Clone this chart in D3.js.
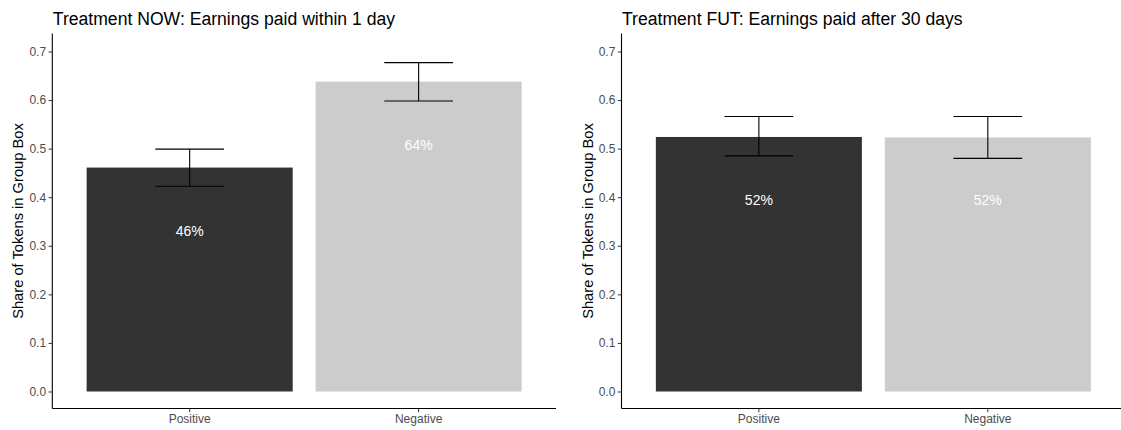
<!DOCTYPE html>
<html>
<head>
<meta charset="utf-8">
<script src="https://cdn.jsdelivr.net/npm/d3@7"></script>
<style>
  html, body { margin: 0; padding: 0; background: #ffffff; }
  svg { display: block; font-family: "Liberation Sans", Arial, sans-serif; }
</style>
</head>
<body>
<svg id="chart" width="1121" height="430"></svg>
<script>
// Group box shares by valence, for each payment-timing treatment
const categories = ["Positive", "Negative"];
const panelTitles = [
  "Treatment NOW: Earnings paid within 1 day",
  "Treatment FUT: Earnings paid after 30 days"
];
const nowMean  = [0.461, 0.638];
const nowLower = [0.4225, 0.598];
const nowUpper = [0.499, 0.677];
const futMean  = [0.524, 0.523];
const futLower = [0.485, 0.480];
const futUpper = [0.566, 0.566];
const yTicks = [0, 0.1, 0.2, 0.3, 0.4, 0.5, 0.6, 0.7];
const yTitle = "Share of Tokens in Group Box";
const fillColors = ["#333333", "#cccccc"];

const panels = [
  { title: panelTitles[0], mean: nowMean, lower: nowLower, upper: nowUpper, left: 52.3 },
  { title: panelTitles[1], mean: futMean, lower: futLower, upper: futUpper, left: 621.5 }
];

const svg = d3.select("#chart");
const panelWidth = 503.7;
const yTop = 33.5, yBottom = 408.5;
const y = d3.scaleLinear().domain([-0.035, 0.737]).range([yBottom, yTop]);
const fmt = d3.format(".0%");
const tickFmt = d3.format(".1f");

panels.forEach(p => {
  const x = d3.scaleBand()
    .domain(categories)
    .range([p.left, p.left + panelWidth])
    .paddingInner(0.1)
    .paddingOuter(0.15);

  const rows = categories.map((c, i) => ({
    cat: c, mean: p.mean[i], lo: p.lower[i], hi: p.upper[i], fill: fillColors[i]
  }));

  const g = svg.append("g");

  // bars
  g.selectAll("rect.bar").data(rows).join("rect")
    .attr("class", "bar")
    .attr("x", d => x(d.cat))
    .attr("width", x.bandwidth())
    .attr("y", d => y(d.mean))
    .attr("height", d => y(0) - y(d.mean))
    .attr("fill", d => d.fill);

  // error bars (whisker width = 0.3 of the category step)
  const ew = x.step() * 0.3;
  const eb = g.selectAll("g.err").data(rows).join("g").attr("class", "err")
    .attr("stroke", "#000").attr("stroke-width", 1.1).attr("fill", "none");
  eb.append("line")
    .attr("x1", d => x(d.cat) + x.bandwidth() / 2)
    .attr("x2", d => x(d.cat) + x.bandwidth() / 2)
    .attr("y1", d => y(d.lo)).attr("y2", d => y(d.hi));
  eb.append("line")
    .attr("x1", d => x(d.cat) + x.bandwidth() / 2 - ew / 2)
    .attr("x2", d => x(d.cat) + x.bandwidth() / 2 + ew / 2)
    .attr("y1", d => y(d.hi)).attr("y2", d => y(d.hi));
  eb.append("line")
    .attr("x1", d => x(d.cat) + x.bandwidth() / 2 - ew / 2)
    .attr("x2", d => x(d.cat) + x.bandwidth() / 2 + ew / 2)
    .attr("y1", d => y(d.lo)).attr("y2", d => y(d.lo));

  // value labels inside the bars
  g.selectAll("text.val").data(rows).join("text")
    .attr("class", "val")
    .attr("x", d => x(d.cat) + x.bandwidth() / 2)
    .attr("y", d => y(d.mean - 0.13))
    .attr("dy", "0.35em")
    .attr("text-anchor", "middle")
    .attr("fill", "#ffffff")
    .style("font-size", "14px")
    .text(d => fmt(d.mean));

  // y axis
  const yAxis = g.append("g")
    .attr("transform", `translate(${p.left},0)`)
    .call(d3.axisLeft(y).tickValues(yTicks).tickFormat(tickFmt).tickSize(3.7).tickPadding(2.5));
  yAxis.select(".domain").attr("d", `M0,${yTop}V${yBottom}`).attr("stroke", "#000").attr("stroke-width", 1.1);
  yAxis.selectAll(".tick line").attr("stroke", "#333").attr("stroke-width", 1);
  yAxis.selectAll(".tick text").attr("fill", "#4d4d4d").style("font-size", "12px")
    .style("font-family", "'Liberation Sans', Arial, sans-serif");

  // x axis
  const xAxis = g.append("g")
    .attr("transform", `translate(0,${yBottom})`)
    .call(d3.axisBottom(x).tickSize(3.7).tickPadding(2.5));
  xAxis.select(".domain").attr("d", `M${p.left},0H${p.left + panelWidth}`).attr("stroke", "#000").attr("stroke-width", 1.1);
  xAxis.selectAll(".tick line").attr("stroke", "#333").attr("stroke-width", 1);
  xAxis.selectAll(".tick text").attr("fill", "#4d4d4d").style("font-size", "12px")
    .style("font-family", "'Liberation Sans', Arial, sans-serif");

  // y axis title
  g.append("text")
    .attr("transform", `translate(${p.left - 34},${(yTop + yBottom) / 2}) rotate(-90)`)
    .attr("dy", "0.35em")
    .attr("text-anchor", "middle")
    .attr("fill", "#000")
    .style("font-size", "14.7px")
    .text(yTitle);

  // panel title
  g.append("text")
    .attr("x", p.left + 0.5)
    .attr("y", 25)
    .attr("fill", "#000")
    .style("font-size", "17.6px")
    .text(p.title);
});
</script>
</body>
</html>
